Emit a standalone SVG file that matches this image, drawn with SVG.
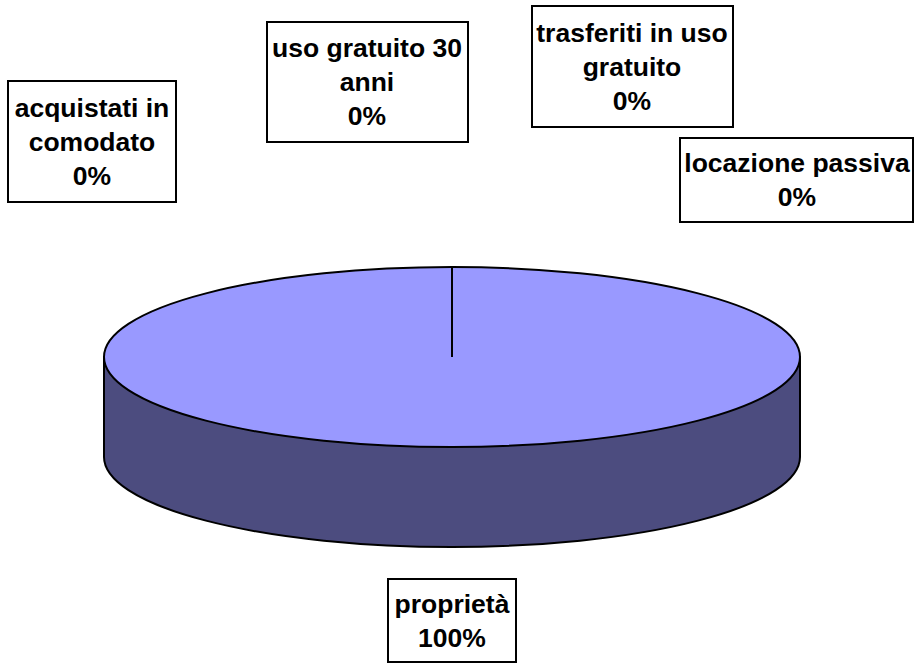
<svg xmlns="http://www.w3.org/2000/svg" width="914" height="664" viewBox="0 0 914 664">
<style>
.lbl rect{fill:#fff;stroke:#000;stroke-width:2}
.lbl text{font-family:"Liberation Sans",Arial,sans-serif;font-weight:bold;font-size:26.5px;fill:#000;text-anchor:middle}
.edge{stroke:#000;stroke-width:2;stroke-linejoin:round}
</style>
<rect width="914" height="664" fill="#fff"/>
<g id="pie">
<path class="edge" d="M104,357 L104,457 A348,90 0 0 0 800,457 L800,357 Z" fill="#4C4C7F"/>
<ellipse class="edge" cx="452" cy="357" rx="348" ry="90" fill="#9999FF"/>
</g>
<g id="connectors">
<line x1="452" y1="267" x2="452" y2="357" stroke="#000" stroke-width="2"/>
</g>
<g id="acquistati" class="lbl">
<rect x="8" y="81" width="168" height="121"/>
<text x="92" y="117">acquistati in</text>
<text x="92" y="151">comodato</text>
<text x="92" y="185">0%</text>
</g>
<g id="uso-gratuito" class="lbl">
<rect x="267" y="22" width="201" height="120"/>
<text x="367" y="57">uso gratuito 30</text>
<text x="367" y="91">anni</text>
<text x="367" y="125">0%</text>
</g>
<g id="trasferiti" class="lbl">
<rect x="532" y="6" width="201" height="121"/>
<text x="632" y="42">trasferiti in uso</text>
<text x="632" y="76">gratuito</text>
<text x="632" y="110">0%</text>
</g>
<g id="locazione" class="lbl">
<rect x="680" y="138" width="233" height="84"/>
<text x="797" y="172">locazione passiva</text>
<text x="797" y="206">0%</text>
</g>
<g id="proprieta" class="lbl">
<rect x="388" y="579" width="128" height="83"/>
<text x="452" y="613">proprietà</text>
<text x="452" y="647">100%</text>
</g>
</svg>
